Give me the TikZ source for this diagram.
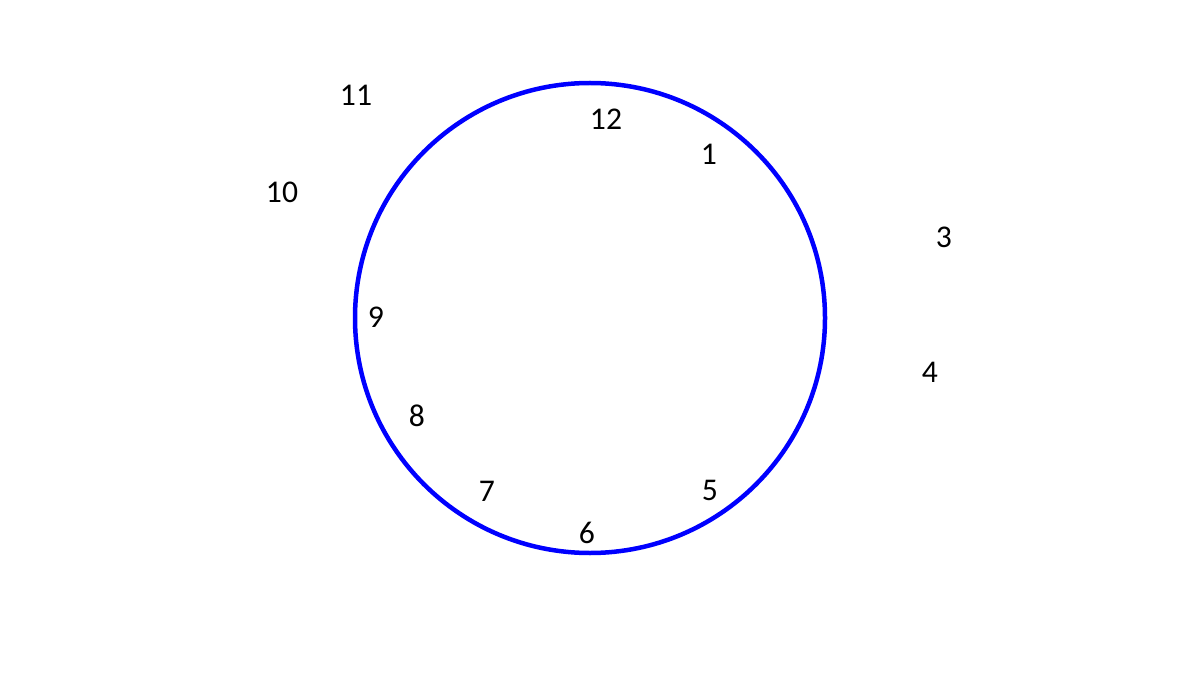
\documentclass[tikz,border=0pt]{standalone}
\usepackage{fontspec}
\setmainfont{Carlito}
\usepackage{tikz}
\usetikzlibrary{positioning}

\begin{document}
\begin{tikzpicture}[
    x=0.02cm, y=-0.02cm,
    hour/.style={font=\fontsize{18pt}{21pt}\selectfont, inner sep=0pt, text=black},
    dial/.style={draw=blue, line width=0.09cm}
]
    % Rahmen
    \useasboundingbox (0,0) rectangle (1190,699);

    % Zifferblatt
    \coordinate (center) at (590,318);
    \draw[dial] (center) circle[radius=235];

    % Ziffern
    \node[hour] (h12) at (606,119) {12};
    \node[hour] (h1)  at (709,154) {1};
    \node[hour] (h3)  at (944,237) {3};
    \node[hour] (h4)  at (930,372) {4};
    \node[hour] (h5)  at (710,490) {5};
    \node[hour] (h6)  at (587,533) {6};
    \node[hour] (h7)  at (487,491) {7};
    \node[hour] (h8)  at (417,416) {8};
    \node[hour] (h9)  at (376,317) {9};
    \node[hour] (h10) at (282,192) {10};
    \node[hour] (h11) at (356,95)  {11};
\end{tikzpicture}
\end{document}
